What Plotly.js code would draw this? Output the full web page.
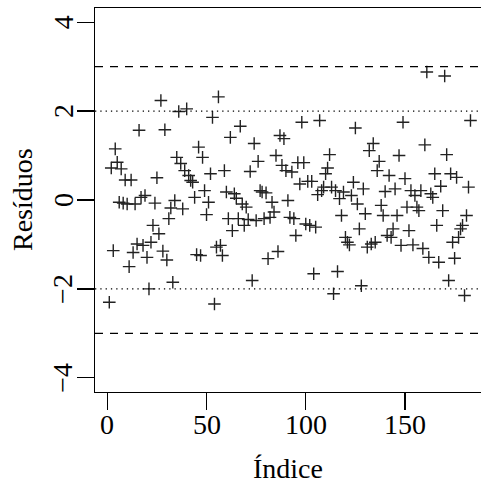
<!DOCTYPE html>
<html>
<head>
<meta charset="utf-8">
<script src="https://cdn.plot.ly/plotly-3.0.1.min.js"></script>
<style>html,body{margin:0;padding:0;background:#fff;}#chart{width:481px;height:486px;}</style>
</head>
<body>
<div id="chart"></div>
<script>
// Residuals, in observation order (index = 1..n)
const residuos = [
  -2.3, 0.72, -1.14, 1.15, 0.85, -0.05, 0.70, -0.07, 0.45, -0.09,
  -1.5, 0.45, -1.18, -0.09, -0.99, 1.57, 0.06, -1.02, 0.1, -1.29,
  -2.0, -0.95, -0.57, -0.07, 0.5, -0.76, 2.24, -1.15, 1.58, -1.35,
  -0.42, -0.18, -1.85, -0.01, 0.96, 1.99, 0.82, -0.2, 0.66, 2.05,
  0.55, 0.44, 0.40, 0.06, -1.23, 1.19, -1.25, 0.96, 0.21, -0.33,
  -0.05, 0.59, 1.86, -2.34, -1.06, 2.32, -1.02, -1.25, 0.66, 0.18,
  -0.42, 1.41, -0.69, 0.14, 0.04, -0.42, 1.66, -0.09, -0.57, -0.16,
  -0.44, 0.64, -1.81, 1.27, -0.46, 0.87, 0.21, 0.18, -0.42, 0.16,
  -1.32, -0.39, -0.05, -0.27, 1.0, -1.16, 1.45, 0.78, 1.38, 0.66,
  -0.01, -0.39, 0.63, -0.42, -0.8, 0.84, 0.36, 1.75, 0.84, -0.54,
  0.42, -0.57, 0.42, -1.66, -0.61, 0.12, 1.79, 0.21, 0.29, 0.59,
  0.72, 1.02, 0.29, -2.11, 0.21, -1.61, 0.03, -0.35, 0.18, -0.84,
  -0.95,
  -1.01, 0.1, 0.4, 1.62, -0.09, -0.65, -1.93, 0.25, -0.31, -1.06,
  1.11, -0.99, 1.27, -0.95, 0.66, 0.87, -0.12, -0.35, 0.19, -0.8,
  0.55, -0.84, -0.65, 0.25, -0.35, 1.0, -1.02, 1.75, 0.48, -0.16,
  -0.69, 0.21, -1.01, 0.1, -0.16, -0.24, 0.21, -1.09, 1.24, 2.88,
  -1.29, 0.14, 0.06, 0.59, -0.57, -1.4, 0.31, -0.24, 2.79, 1.02,
  -1.81, 0.59, -0.95, -1.31, 0.51, -0.84, -0.65, -0.57, -2.15, -0.35,
  0.29, 1.79
];
const indice = residuos.map((_, i) => i + 1);

const dottedLines = [-2, 2];
const dashedLines = [-3, 3];
const xTicks = [0, 50, 100, 150];
const yTicks = [-4, -2, 0, 2, 4];
const xTitle = 'Índice';
const yTitle = 'Resíduos';

function mkFont() { return {family: 'Liberation Serif', size: 28, color: '#000'}; }
function fmt(v) { return v < 0 ? '\u2212' + Math.abs(v) : String(v); }

const shapes = [];
dottedLines.forEach(v => shapes.push({type: 'line', xref: 'paper', x0: 0, x1: 1, yref: 'y', y0: v, y1: v,
  line: {color: '#000', width: 1.3, dash: '1.3px,4px'}}));
dashedLines.forEach(v => shapes.push({type: 'line', xref: 'paper', x0: 0, x1: 1, yref: 'y', y0: v, y1: v,
  line: {color: '#000', width: 1.3, dash: '8px,7px'}}));

// Tick labels and axis titles as text annotations at fixed offsets from the axes
const annotations = [];
xTicks.forEach(v => annotations.push({xref: 'x', x: v, yref: 'paper', y: 0, text: fmt(v), showarrow: false,
  xanchor: 'center', yanchor: 'middle', yshift: -32, font: mkFont()}));
yTicks.forEach(v => annotations.push({xref: 'paper', x: 0, yref: 'y', y: v, text: fmt(v), showarrow: false,
  textangle: -90, xanchor: 'center', yanchor: 'middle', xshift: -32, font: mkFont()}));
annotations.push({xref: 'paper', x: 0.5, yref: 'paper', y: 0, text: xTitle, showarrow: false,
  xanchor: 'center', yanchor: 'middle', yshift: -76, font: mkFont()});
annotations.push({xref: 'paper', x: 0, yref: 'paper', y: 0.5, text: yTitle, showarrow: false,
  textangle: -90, xanchor: 'center', yanchor: 'middle', xshift: -73, font: mkFont()});

const trace = {
  x: indice, y: residuos, type: 'scatter', mode: 'markers',
  marker: {symbol: 'cross-thin', size: 9, color: '#222', line: {color: '#222', width: 1.4}},
  hoverinfo: 'skip'
};

const layout = {
  width: 481, height: 486,
  margin: {l: 95, r: 0, t: 8, b: 94, pad: 0},
  paper_bgcolor: '#fff', plot_bgcolor: '#fff',
  showlegend: false,
  font: mkFont(),
  shapes: shapes,
  annotations: annotations,
  xaxis: {
    range: [-6.2, 188.3], tickmode: 'array', tickvals: xTicks, showticklabels: false,
    showgrid: false, zeroline: false, showline: true, mirror: true,
    linecolor: '#000', linewidth: 1.3,
    ticks: 'outside', ticklen: 17, tickwidth: 1.3, tickcolor: '#000'
  },
  yaxis: {
    range: [-4.32, 4.32], tickmode: 'array', tickvals: yTicks, showticklabels: false,
    showgrid: false, zeroline: false, showline: true, mirror: false,
    linecolor: '#000', linewidth: 1.3,
    ticks: 'outside', ticklen: 17, tickwidth: 1.3, tickcolor: '#000'
  }
};

const gd = document.getElementById('chart');
function draw() {
  Plotly.newPlot(gd, [trace], layout, {staticPlot: true, displayModeBar: false}).then(() => {
    // force layout of every text, then redraw once so the serif face is used everywhere
    gd.querySelectorAll('text').forEach(t => t.getBoundingClientRect());
    return Plotly.react(gd, [trace], layout, {staticPlot: true, displayModeBar: false});
  });
}
const ready = (document.fonts && document.fonts.load)
  ? Promise.all([document.fonts.load('28px "Liberation Serif"', '0123456789\u2212'),
                 document.fonts.load('28px "Liberation Serif"', 'ÍndiceResíduos')])
  : Promise.resolve();
ready.then(draw, draw);
</script>
</body>
</html>
